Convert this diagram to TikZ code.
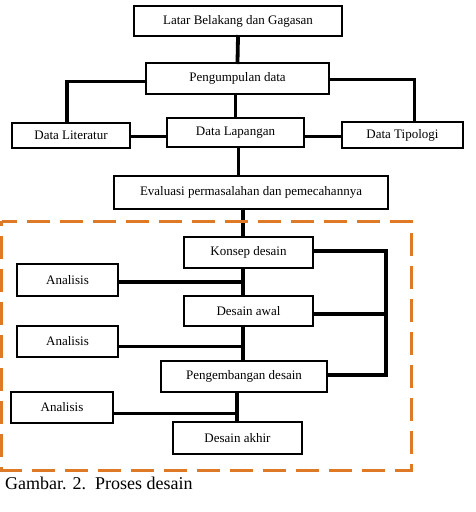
\documentclass[tikz,border=0pt]{standalone}
\usepackage{fontspec}
\setmainfont{Liberation Serif}
\usepackage{tikz}

\definecolor{dashorange}{RGB}{222,122,38}

\begin{document}
\begin{tikzpicture}[x=1pt,y=-1pt,
  box/.style={draw,line width=1.8pt,inner sep=0pt,font=\fontsize{13}{15}\selectfont},
  link/.style={line width=3.8pt,line cap=rect}]
\useasboundingbox (0,0) rectangle (476,512);
% kotak proses
\node[box,minimum width=208pt,minimum height=30pt] (latar) at (238,21) {Latar Belakang dan Gagasan};
\node[box,minimum width=183pt,minimum height=31pt] (kumpul) at (237.5,78.5) {Pengumpulan data};
\node[box,minimum width=118pt,minimum height=25pt] (lit) at (71,135.5) {Data Literatur};
\node[box,minimum width=137pt,minimum height=29pt] (lap) at (235.5,132.5) {Data Lapangan};
\node[box,minimum width=121pt,minimum height=26pt] (tipo) at (402.5,135) {Data Tipologi};
\node[box,minimum width=274pt,minimum height=33pt] (eval) at (251,192.5) {Evaluasi permasalahan dan pemecahannya};
\node[box,minimum width=129pt,minimum height=31pt] (konsep) at (248.5,252.5) {Konsep desain};
\node[box,minimum width=101pt,minimum height=32pt] (an1) at (67.5,280) {Analisis};
\node[box,minimum width=129pt,minimum height=30pt] (awal) at (248.5,311) {Desain awal};
\node[box,minimum width=101pt,minimum height=31pt] (an2) at (67.5,341.5) {Analisis};
\node[box,minimum width=166pt,minimum height=31pt] (kembang) at (244,376.5) {Pengembangan desain};
\node[box,minimum width=102pt,minimum height=31pt] (an3) at (62,407.5) {Analisis};
\node[box,minimum width=129pt,minimum height=32pt] (akhir) at (237.5,438) {Desain akhir};
% titik bantu
\coordinate (jA) at (243,0);
\coordinate (jB) at (237,0);
\coordinate (bus) at (386,0);
% garis penghubung
\begin{scope}[link]
 \draw (latar.south) -- (kumpul.north);
 \draw ([yshift=-3pt]kumpul.west) -| ([xshift=-4pt]lit.north);
 \draw ([yshift=-1pt]kumpul.east) -| ([xshift=12pt]tipo.north);
 \draw ([xshift=-2pt]kumpul.south) -- ([xshift=-2pt]kumpul.south |- lap.north);
 \draw ([yshift=-4pt]lap.west) -- ([yshift=-4pt]lap.west -| lit.east);
 \draw ([yshift=-4pt]lap.east) -- ([yshift=-4pt]lap.east -| tipo.west);
 \draw ([xshift=3pt]lap.south) -- ([xshift=3pt]lap.south |- eval.north);
 \draw (eval.south -| jA) -- (konsep.north -| jA);
 \draw (konsep.south -| jA) -- (awal.north -| jA);
 \draw ([yshift=-2pt]an1.east) -- ([yshift=-2pt]an1.east -| jA);
 \draw (awal.south -| jA) -- (kembang.north -| jA);
 \draw ([yshift=-5pt]an2.east) -- ([yshift=-5pt]an2.east -| jA);
 \draw (kembang.south -| jB) -- (akhir.north -| jB);
 \draw ([yshift=-6pt]an3.east) -- ([yshift=-6pt]an3.east -| jB);
 \draw ([yshift=1.5pt]konsep.east) -| ([yshift=1.5pt]kembang.east -| bus) -- ([yshift=1.5pt]kembang.east);
 \draw ([yshift=-3pt]awal.east) -- ([yshift=-3pt]awal.east -| bus);
\end{scope}
% batas tahap desain
\draw[dashorange,line width=3pt,dash pattern=on 23pt off 10pt,dash phase=8pt]
 (1.5,221) -- (411,221) -- (411,470) -- (1.5,470) -- cycle;
\node[anchor=west,inner sep=0pt,font=\fontsize{18}{20}\selectfont] (judul) at (5,483) {Gambar. 2.\ \ Proses desain};
\end{tikzpicture}
\end{document}
